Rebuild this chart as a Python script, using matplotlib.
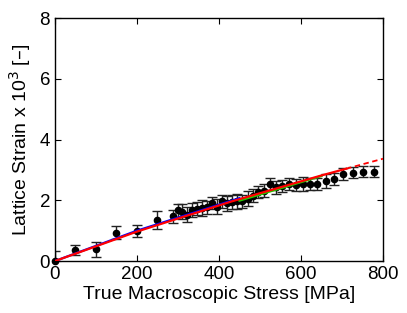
#!/usr/bin/env python3

import numpy as np
import matplotlib
matplotlib.use('Agg')
import matplotlib.pyplot as plt

plt.rcParams['font.family'] = ['Liberation Sans', 'DejaVu Sans']

# measured lattice strain (x 10^3) vs true macroscopic stress
stress = [0, 50, 100, 150, 200, 250, 287, 299, 311, 322, 334, 346, 358, 371,
          383, 395, 407, 420, 432, 444, 456, 470, 483, 496, 510, 525, 540,
          554, 570, 588, 605, 622, 640, 660, 681, 703, 726, 751, 777]
strain = [0.0, 0.36, 0.39, 0.94, 1.00, 1.36, 1.47, 1.67, 1.63, 1.52, 1.68,
          1.73, 1.75, 1.77, 1.92, 1.79, 1.97, 1.90, 1.94, 1.97, 1.97, 2.05,
          2.15, 2.27, 2.32, 2.54, 2.43, 2.48, 2.54, 2.51, 2.54, 2.55, 2.53,
          2.64, 2.69, 2.88, 2.91, 2.94, 2.94]
strain_err = [0.32, 0.16, 0.25, 0.2, 0.2, 0.3, 0.22, 0.22, 0.25, 0.25, 0.22,
              0.22, 0.25, 0.22, 0.2, 0.25, 0.22, 0.25, 0.22, 0.25, 0.22, 0.25,
              0.22, 0.2, 0.22, 0.2, 0.22, 0.2, 0.2, 0.2, 0.22, 0.2, 0.2,
              0.22, 0.2, 0.2, 0.18, 0.18, 0.18]

# model curves
blue_x = [0, 200, 450]
blue_y = [0, 1.0, 2.07]
green_x = [450, 650]
green_y = [1.99, 2.80]
red_x = [0, 200, 430, 650, 710]
red_y = [0, 0.97, 1.96, 2.82, 3.04]
red_dash_x = [710, 800]
red_dash_y = [3.04, 3.37]

fig = plt.figure(figsize=(4.07, 3.13), dpi=100)
ax = fig.add_axes([0.135, 0.166, 0.806, 0.776])

eb = ax.errorbar(stress, strain, yerr=strain_err, fmt='o', color='black',
                 ecolor='#222222', markersize=4.5, capsize=3.5, elinewidth=1,
                 capthick=1, zorder=2)
eb[0].set_clip_on(False)
ax.plot(blue_x, blue_y, color='blue', lw=1.6, zorder=3)
ax.plot(green_x, green_y, color='#22cc00', lw=1.6, zorder=3)
ax.plot(red_x, red_y, color='red', lw=1.6, zorder=4)
ax.plot(red_dash_x, red_dash_y, color='red', lw=1.3, ls=(0, (3, 2)), zorder=4)

ax.set_xlim(0, 800)
ax.set_ylim(0, 8)
ax.set_xticks([0, 200, 400, 600, 800])
ax.set_yticks([0, 2, 4, 6, 8])
ax.tick_params(direction='in', top=True, right=True, labelsize=13.5, length=4,
               width=0.8)
for s in ax.spines.values():
    s.set_linewidth(1.0)

ax.set_xlabel('True Macroscopic Stress [MPa]', fontsize=14, labelpad=2)
ax.set_ylabel('Lattice Strain x 10$^3$ [\u2013]', fontsize=14, labelpad=5)

fig.savefig('out.png', dpi=100)
